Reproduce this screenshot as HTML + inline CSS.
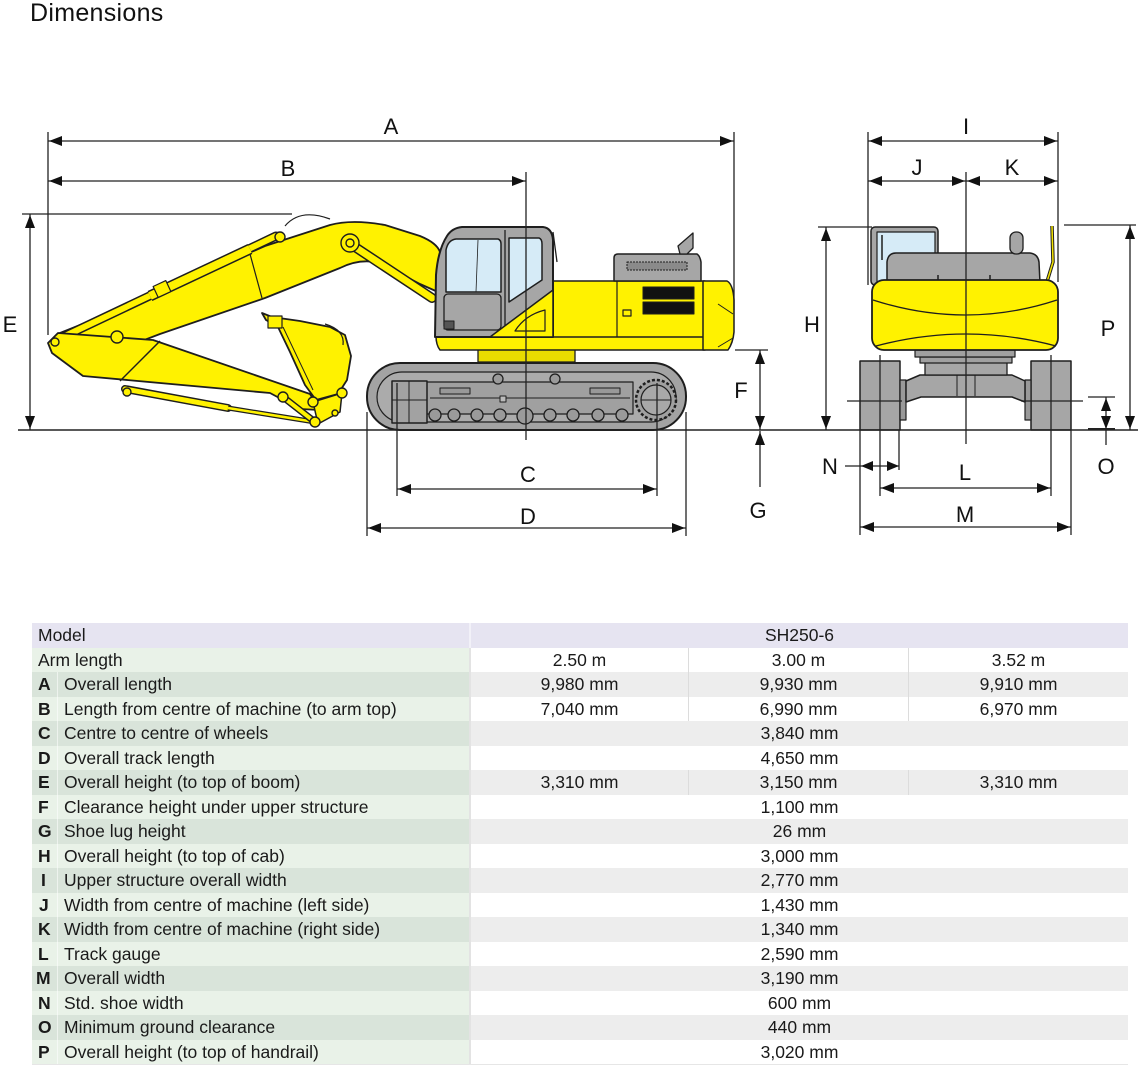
<!DOCTYPE html>
<html><head><meta charset="utf-8">
<style>
html,body{margin:0;padding:0;background:#fff;}
body{width:1140px;height:1067px;position:relative;overflow:hidden;font-family:"Liberation Sans",Arial,sans-serif;color:#1a1a1a;}
.r{position:absolute;left:32px;width:1096px;}
.l{position:absolute;left:0;top:0;bottom:0;width:437px;}
.rt{position:absolute;left:439px;top:0;bottom:0;width:657px;}
.dv{position:absolute;left:437px;top:0;bottom:0;width:2px;background:#e3e3e3;}
.t{position:absolute;top:0;bottom:0;display:flex;align-items:center;font-size:17.5px;white-space:nowrap;}
.k{left:6px;font-weight:bold;}
.d{left:32px;}
.c{justify-content:center;}
.c1{left:439px;width:217px;}
.c2{left:657px;width:219px;}
.c3{left:877px;width:219px;}
.cs{left:439px;width:657px;}
.vl{position:absolute;top:0;bottom:0;width:1px;background:#dcdcdc;}
.kl{position:absolute;left:25px;top:0;bottom:0;width:1px;background:rgba(255,255,255,0.55);}
.g1{background:#e9f2e8;}
.g2{background:#d9e4da;}
.w{background:#fff;}
.gr{background:#ededed;}
</style></head>
<body>
<svg width="1140" height="600" viewBox="0 0 1140 600" xmlns="http://www.w3.org/2000/svg" style="position:absolute;left:0;top:0">
<text x="30" y="21" font-family="Liberation Sans, Arial, sans-serif" font-size="25" fill="#111" letter-spacing="0.3">Dimensions</text>

<!-- ===== SIDE VIEW ===== -->
<g stroke="#1e1e1e" stroke-linejoin="round">
<!-- track -->
<rect x="367" y="363" width="319" height="67" rx="33" fill="#a3a3a3" stroke-width="2"/>
<rect x="377" y="372" width="299" height="50" rx="25" fill="#ababab" stroke-width="1.2"/>
<rect x="397" y="382" width="236" height="32" fill="#a0a0a0" stroke-width="1.2"/>
<line x1="430" y1="398" x2="630" y2="398" stroke-width="1"/>
<rect x="392" y="381" width="35" height="42" fill="#a2a2a2" stroke-width="1.5"/>
<line x1="392" y1="400" x2="427" y2="400" stroke-width="1"/>
<line x1="409" y1="381" x2="409" y2="423" stroke-width="1"/>
<rect x="440" y="388" width="30" height="6" fill="#999" stroke-width="1"/>
<rect x="590" y="388" width="30" height="6" fill="#999" stroke-width="1"/>
<rect x="500" y="396" width="6" height="6" fill="#bbb" stroke-width="1"/>
<g fill="#9a9a9a" stroke-width="1.3">
<circle cx="435" cy="415" r="6"/><circle cx="454" cy="415" r="6"/><circle cx="477" cy="415" r="6"/><circle cx="500" cy="415" r="6"/>
<circle cx="525" cy="416" r="8"/><circle cx="550" cy="415" r="6"/><circle cx="573" cy="415" r="6"/><circle cx="598" cy="415" r="6"/><circle cx="622" cy="415" r="6"/>
<circle cx="498" cy="379" r="5"/><circle cx="555" cy="379" r="5"/>
</g>
<circle cx="656" cy="400" r="20" fill="#a0a0a0" stroke-width="2.5" stroke-dasharray="3 2"/>
<circle cx="656" cy="400" r="15" fill="#a8a8a8" stroke-width="1.2"/>
<line x1="641" y1="400" x2="671" y2="400" stroke-width="1"/>
<!-- swing bearing -->
<rect x="478" y="349" width="97" height="13" fill="#e9dc00" stroke-width="1.3"/>
<!-- boom -->
<path d="M60,333 L140,301 L265,246 L330,225 Q352,219 385,225 L420,236 Q437,243 440,252 L438,292 L420,284 L380,263 Q360,258 340,268 L265,298 L160,334 L118,350 L80,350 Z" fill="#fff200" stroke-width="1.8"/>
<line x1="250" y1="254" x2="262" y2="298" stroke-width="1.2"/>
<!-- boom cylinder -->
<line x1="352" y1="245" x2="432" y2="298" stroke-width="10" stroke-linecap="round"/>
<line x1="352" y1="245" x2="432" y2="298" stroke="#fff200" stroke-width="7" stroke-linecap="round"/>
<!-- arm cylinder -->
<line x1="65" y1="336" x2="276" y2="236" stroke-width="9" stroke-linecap="round"/>
<line x1="65" y1="336" x2="276" y2="236" stroke="#fff200" stroke-width="6" stroke-linecap="round"/>
<line x1="150" y1="296" x2="250" y2="249" stroke-width="11"/>
<line x1="150" y1="296" x2="250" y2="249" stroke="#fff200" stroke-width="8"/>
<rect x="155" y="283" width="14" height="12" fill="#fff200" stroke-width="1.2" transform="rotate(-25 162 289)"/>
<!-- arm -->
<path d="M48,343 L58,333 L153,340 L310,394 L320,410 L300,409 L270,393 L83,376 L52,353 Z" fill="#fff200" stroke-width="1.8"/>
<line x1="160" y1="341" x2="120" y2="381" stroke-width="1.5"/>
<!-- bucket cylinder -->
<line x1="125" y1="389" x2="228" y2="408" stroke-width="8" stroke-linecap="round"/>
<line x1="125" y1="389" x2="228" y2="408" stroke="#fff200" stroke-width="5" stroke-linecap="round"/>
<line x1="228" y1="408" x2="315" y2="422" stroke-width="5"/>
<line x1="228" y1="408" x2="315" y2="422" stroke="#fff200" stroke-width="2.5"/>
<!-- bucket -->
<path d="M262,313 L272,317 L300,321 L330,327 L345,335 L351,356 L347,380 L338,394 L316,400 L305,385 L290,352 L278,327 L266,320 Z" fill="#fff200" stroke-width="1.8"/>
<path d="M325,324 Q345,330 343,345" fill="none" stroke-width="1.2"/>
<line x1="283" y1="327" x2="313" y2="390" stroke-width="1"/>
<rect x="268" y="316" width="14" height="12" fill="#fff200" stroke-width="1.2"/>
<!-- links -->
<line x1="283" y1="397" x2="315" y2="422" stroke-width="7" stroke-linecap="round"/>
<line x1="283" y1="397" x2="315" y2="422" stroke="#fff200" stroke-width="4" stroke-linecap="round"/>
<path d="M313,402 L342,393 L340,412 L318,424 Z" fill="#fff200" stroke-width="1.5"/>
<g fill="#fff200" stroke-width="1.4">
<circle cx="55" cy="342" r="4"/><circle cx="117" cy="337" r="6"/><circle cx="350" cy="243" r="9"/><circle cx="350" cy="243" r="4"/>
<circle cx="280" cy="237" r="5"/><circle cx="127" cy="392" r="4"/><circle cx="283" cy="397" r="5"/><circle cx="313" cy="402" r="5"/>
<circle cx="342" cy="393" r="5"/><circle cx="315" cy="422" r="5"/><circle cx="335" cy="413" r="3"/>
</g>
<path d="M285,226 Q300,208 330,219" fill="none" stroke-width="1.2"/>
<!-- upper body -->
<path d="M436,336 L705,336 L705,350 L440,350 Q436,345 436,336 Z" fill="#fff200" stroke-width="1.5"/>
<rect x="553" y="281" width="152" height="56" fill="#fff200" stroke-width="1.5"/>
<line x1="617" y1="281" x2="617" y2="337" stroke-width="1.2"/>
<path d="M703,281 L727,281 Q733,284 734,300 L734,332 Q733,343 728,350 L703,350 Z" fill="#fff200" stroke-width="1.5"/>
<line x1="718" y1="304" x2="733" y2="314" stroke-width="1"/>
<line x1="718" y1="347" x2="733" y2="338" stroke-width="1"/>
<path d="M614,281 L614,258 Q614,254 618,254 L697,254 Q700,256 701,262 L701,281 Z" fill="#a6a6a6" stroke-width="1.5"/>
<rect x="627" y="262" width="60" height="8" fill="#8a8a8a" stroke-width="1" stroke-dasharray="2 1"/>
<path d="M678,246 L693,233 L693,248 L687,254 L680,254 Z" fill="#a6a6a6" stroke-width="1.3"/>
<rect x="643" y="287" width="51" height="12" fill="#111"/>
<rect x="643" y="302" width="51" height="12" fill="#111"/>
<rect x="623" y="310" width="8" height="6" fill="none" stroke-width="1.2"/>
<!-- cab -->
<path d="M435,337 L436,275 Q438,250 447,236 Q452,228 462,227 L543,227 Q552,228 553,240 L553,337 Z" fill="#a6a6a6" stroke-width="2"/>
<path d="M446,292 L446,250 Q448,240 456,239 L498,239 Q501,240 501,244 L501,292 Z" fill="#d6ebf7" stroke-width="1.5"/>
<path d="M509,238 L539,238 Q542,239 542,244 L542,280 L509,302 Z" fill="#d6ebf7" stroke-width="1.5"/>
<line x1="478" y1="240" x2="476" y2="292" stroke-width="0.8"/>
<rect x="444" y="294" width="57" height="36" rx="4" fill="#a6a6a6" stroke-width="1.3"/>
<rect x="444" y="321" width="10" height="8" fill="#555" stroke-width="1"/>
<line x1="505" y1="230" x2="505" y2="337" stroke-width="1.3"/>
<path d="M490,337 L553,290 L553,337 Z" fill="#fff200" stroke-width="1.5"/>
<path d="M515,331 Q525,315 545,310 L545,331 Z" fill="none" stroke-width="1.2"/>
<line x1="553" y1="232" x2="557" y2="262" stroke-width="1.3"/>
</g>

<!-- ===== FRONT VIEW ===== -->
<g stroke="#1e1e1e" stroke-linejoin="round">
<rect x="860" y="361" width="40" height="69" fill="#a6a6a6" stroke-width="1.5"/>
<rect x="1031" y="361" width="40" height="69" fill="#a6a6a6" stroke-width="1.5"/>
<rect x="900" y="380" width="6" height="40" fill="#999" stroke-width="1.2"/>
<rect x="1025" y="380" width="6" height="40" fill="#999" stroke-width="1.2"/>
<path d="M906,381 L920,375 L1012,375 L1025,381 L1025,402 L1012,397 L921,397 L906,402 Z" fill="#a6a6a6" stroke-width="1.5"/>
<line x1="957" y1="375" x2="957" y2="396" stroke-width="1"/>
<line x1="975" y1="375" x2="975" y2="396" stroke-width="1"/>
<rect x="925" y="362" width="82" height="13" fill="#a6a6a6" stroke-width="1.3"/>
<rect x="920" y="357" width="92" height="6" fill="#a0a0a0" stroke-width="1.2"/>
<rect x="915" y="350" width="100" height="7" fill="#a0a0a0" stroke-width="1.2"/>
<rect x="871" y="227" width="67" height="58" rx="4" fill="#a6a6a6" stroke-width="1.5"/>
<rect x="877" y="232" width="58" height="50" fill="#d6ebf7" stroke-width="1.2"/>
<line x1="882" y1="235" x2="882" y2="260" stroke-width="1.5"/>
<path d="M887,283 L887,262 Q888,253 896,253 L1030,253 Q1038,254 1039,262 L1040,283 Z" fill="#a6a6a6" stroke-width="1.5"/>
<rect x="1010" y="232" width="13" height="22" rx="6" fill="#a6a6a6" stroke-width="1.3"/>
<path d="M1052,226 L1053,262 L1046,285" fill="none" stroke-width="3.5"/>
<path d="M1052,226 L1053,262 L1046,285" fill="none" stroke="#f2e200" stroke-width="1.5"/>
<rect x="872" y="280" width="186" height="70" rx="12" fill="#fff200" stroke-width="1.8"/>
<path d="M873,300 Q966,330 1057,300" fill="none" stroke-width="1.3"/>
<path d="M876,346 Q966,322 1056,346" fill="none" stroke-width="1.3"/>
<line x1="938" y1="275" x2="938" y2="280" stroke-width="1.5"/>
<line x1="990" y1="275" x2="990" y2="280" stroke-width="1.5"/>
</g>

<!-- ===== DIMENSION LINES ===== -->
<g stroke="#222" stroke-width="1.3" fill="none">
<line x1="18" y1="430" x2="1138" y2="430" stroke-width="1.6"/>
<line x1="48" y1="141" x2="734" y2="141"/>
<line x1="48" y1="132" x2="48" y2="335"/>
<line x1="734" y1="132" x2="734" y2="310"/>
<line x1="48" y1="181" x2="526" y2="181"/>
<line x1="526" y1="172" x2="526" y2="440"/>
<line x1="30" y1="214" x2="30" y2="430"/>
<line x1="22" y1="214" x2="292" y2="214"/>
<line x1="760" y1="350" x2="760" y2="430"/>
<line x1="735" y1="350" x2="768" y2="350"/>
<line x1="760" y1="431" x2="760" y2="487"/>
<line x1="397" y1="383" x2="397" y2="496"/>
<line x1="657" y1="383" x2="657" y2="496"/>
<line x1="397" y1="489" x2="657" y2="489"/>
<line x1="367" y1="412" x2="367" y2="536"/>
<line x1="686" y1="412" x2="686" y2="536"/>
<line x1="367" y1="528" x2="686" y2="528"/>
<!-- front -->
<line x1="868" y1="141" x2="1058" y2="141"/>
<line x1="868" y1="132" x2="868" y2="285"/>
<line x1="1058" y1="132" x2="1058" y2="282"/>
<line x1="868" y1="181" x2="1058" y2="181"/>
<line x1="966" y1="172" x2="966" y2="444"/>
<line x1="826" y1="227" x2="826" y2="430"/>
<line x1="818" y1="227" x2="872" y2="227"/>
<line x1="1130" y1="225" x2="1130" y2="430"/>
<line x1="1064" y1="225" x2="1136" y2="225"/>
<line x1="1106" y1="397" x2="1106" y2="445"/>
<line x1="847" y1="401" x2="902" y2="401"/>
<line x1="1021" y1="401" x2="1083" y2="401"/>
<line x1="1088" y1="397" x2="1115" y2="397"/>
<line x1="1088" y1="429" x2="1115" y2="429" stroke-width="2"/>
<line x1="845" y1="466" x2="899" y2="466"/>
<line x1="860" y1="430" x2="860" y2="535"/>
<line x1="880" y1="355" x2="880" y2="496"/>
<line x1="899" y1="430" x2="899" y2="470"/>
<line x1="1051" y1="355" x2="1051" y2="496"/>
<line x1="1071" y1="430" x2="1071" y2="535"/>
<line x1="880" y1="488" x2="1051" y2="488"/>
<line x1="860" y1="527" x2="1071" y2="527"/>
</g>
<!-- arrowheads -->
<g fill="#111">
<polygon points="49,141 62,136 62,146"/><polygon points="733,141 720,136 720,146"/>
<polygon points="49,181 62,176 62,186"/><polygon points="525,181 512,176 512,186"/>
<polygon points="30,215 25,228 35,228"/><polygon points="30,429 25,416 35,416"/>
<polygon points="760,351 755,364 765,364"/><polygon points="760,429 755,416 765,416"/>
<polygon points="760,432 755,445 765,445"/>
<polygon points="398,489 411,484 411,494"/><polygon points="656,489 643,484 643,494"/>
<polygon points="368,528 381,523 381,533"/><polygon points="685,528 672,523 672,533"/>
<polygon points="869,141 882,136 882,146"/><polygon points="1057,141 1044,136 1044,146"/>
<polygon points="869,181 882,176 882,186"/><polygon points="965,181 952,176 952,186"/>
<polygon points="967,181 980,176 980,186"/><polygon points="1057,181 1044,176 1044,186"/>
<polygon points="826,228 821,241 831,241"/><polygon points="826,429 821,416 831,416"/>
<polygon points="1130,226 1125,239 1135,239"/><polygon points="1130,429 1125,416 1135,416"/>
<polygon points="1106,398 1101,411 1111,411"/><polygon points="1106,429 1101,416 1111,416"/>
<polygon points="861,466 873,461 873,471"/><polygon points="899,466 887,461 887,471"/>
<polygon points="881,488 894,483 894,493"/><polygon points="1050,488 1037,483 1037,493"/>
<polygon points="861,527 874,522 874,532"/><polygon points="1070,527 1057,522 1057,532"/>
</g>
<!-- labels -->
<g font-family="Liberation Sans, Arial, sans-serif" font-size="22" fill="#111" text-anchor="middle">
<text x="391" y="134">A</text>
<text x="288" y="176">B</text>
<text x="10" y="332">E</text>
<text x="741" y="398">F</text>
<text x="758" y="518">G</text>
<text x="528" y="482">C</text>
<text x="528" y="524">D</text>
<text x="966" y="134">I</text>
<text x="917" y="175">J</text>
<text x="1012" y="175">K</text>
<text x="812" y="332">H</text>
<text x="1108" y="336">P</text>
<text x="830" y="474">N</text>
<text x="965" y="480">L</text>
<text x="1106" y="474">O</text>
<text x="965" y="522">M</text>
</g>
</svg>

<!-- ===== TABLE ===== -->
<div class="r" style="top:623px;height:25px;background:#e6e4f1;">
  <div class="dv" style="background:#f2f1f8"></div>
  <div class="t" style="left:6px">Model</div>
  <div class="t c cs">SH250-6</div>
</div>
<div class="r" style="top:648px;height:24px;">
  <div class="l g1"></div><div class="rt w"></div><div class="dv"></div>
  <div class="vl" style="left:656px"></div><div class="vl" style="left:876px"></div>
  <div class="t" style="left:6px">Arm length</div>
  <div class="t c c1">2.50 m</div><div class="t c c2">3.00 m</div><div class="t c c3">3.52 m</div>
</div>
<div class="r" style="top:672px;height:25px;">
  <div class="l g2"></div><div class="rt gr"></div><div class="dv"></div><div class="kl"></div>
  <div class="vl" style="left:656px"></div><div class="vl" style="left:876px"></div>
  <div class="t k">A</div><div class="t d">Overall length</div>
  <div class="t c c1">9,980 mm</div><div class="t c c2">9,930 mm</div><div class="t c c3">9,910 mm</div>
</div>
<div class="r" style="top:697px;height:24px;">
  <div class="l g1"></div><div class="rt w"></div><div class="dv"></div><div class="kl"></div>
  <div class="vl" style="left:656px"></div><div class="vl" style="left:876px"></div>
  <div class="t k">B</div><div class="t d">Length from centre of machine (to arm top)</div>
  <div class="t c c1">7,040 mm</div><div class="t c c2">6,990 mm</div><div class="t c c3">6,970 mm</div>
</div>
<div class="r" style="top:721px;height:25px;">
  <div class="l g2"></div><div class="rt gr"></div><div class="dv"></div><div class="kl"></div>
  <div class="t k">C</div><div class="t d">Centre to centre of wheels</div>
  <div class="t c cs">3,840 mm</div>
</div>
<div class="r" style="top:746px;height:24px;">
  <div class="l g1"></div><div class="rt w"></div><div class="dv"></div><div class="kl"></div>
  <div class="t k">D</div><div class="t d">Overall track length</div>
  <div class="t c cs">4,650 mm</div>
</div>
<div class="r" style="top:770px;height:25px;">
  <div class="l g2"></div><div class="rt gr"></div><div class="dv"></div><div class="kl"></div>
  <div class="vl" style="left:656px"></div><div class="vl" style="left:876px"></div>
  <div class="t k">E</div><div class="t d">Overall height (to top of boom)</div>
  <div class="t c c1">3,310 mm</div><div class="t c c2">3,150 mm</div><div class="t c c3">3,310 mm</div>
</div>
<div class="r" style="top:795px;height:24px;">
  <div class="l g1"></div><div class="rt w"></div><div class="dv"></div><div class="kl"></div>
  <div class="t k">F</div><div class="t d">Clearance height under upper structure</div>
  <div class="t c cs">1,100 mm</div>
</div>
<div class="r" style="top:819px;height:25px;">
  <div class="l g2"></div><div class="rt gr"></div><div class="dv"></div><div class="kl"></div>
  <div class="t k">G</div><div class="t d">Shoe lug height</div>
  <div class="t c cs">26 mm</div>
</div>
<div class="r" style="top:844px;height:24px;">
  <div class="l g1"></div><div class="rt w"></div><div class="dv"></div><div class="kl"></div>
  <div class="t k">H</div><div class="t d">Overall height (to top of cab)</div>
  <div class="t c cs">3,000 mm</div>
</div>
<div class="r" style="top:868px;height:25px;">
  <div class="l g2"></div><div class="rt gr"></div><div class="dv"></div><div class="kl"></div>
  <div class="t k" style="left:9px">I</div><div class="t d">Upper structure overall width</div>
  <div class="t c cs">2,770 mm</div>
</div>
<div class="r" style="top:893px;height:24px;">
  <div class="l g1"></div><div class="rt w"></div><div class="dv"></div><div class="kl"></div>
  <div class="t k" style="left:7px">J</div><div class="t d">Width from centre of machine (left side)</div>
  <div class="t c cs">1,430 mm</div>
</div>
<div class="r" style="top:917px;height:25px;">
  <div class="l g2"></div><div class="rt gr"></div><div class="dv"></div><div class="kl"></div>
  <div class="t k">K</div><div class="t d">Width from centre of machine (right side)</div>
  <div class="t c cs">1,340 mm</div>
</div>
<div class="r" style="top:942px;height:24px;">
  <div class="l g1"></div><div class="rt w"></div><div class="dv"></div><div class="kl"></div>
  <div class="t k">L</div><div class="t d">Track gauge</div>
  <div class="t c cs">2,590 mm</div>
</div>
<div class="r" style="top:966px;height:25px;">
  <div class="l g2"></div><div class="rt gr"></div><div class="dv"></div><div class="kl"></div>
  <div class="t k" style="left:4px">M</div><div class="t d">Overall width</div>
  <div class="t c cs">3,190 mm</div>
</div>
<div class="r" style="top:991px;height:24px;">
  <div class="l g1"></div><div class="rt w"></div><div class="dv"></div><div class="kl"></div>
  <div class="t k">N</div><div class="t d">Std. shoe width</div>
  <div class="t c cs">600 mm</div>
</div>
<div class="r" style="top:1015px;height:25px;">
  <div class="l g2"></div><div class="rt gr"></div><div class="dv"></div><div class="kl"></div>
  <div class="t k">O</div><div class="t d">Minimum ground clearance</div>
  <div class="t c cs">440 mm</div>
</div>
<div class="r" style="top:1040px;height:24px;">
  <div class="l g1"></div><div class="rt w"></div><div class="dv"></div><div class="kl"></div>
  <div class="t k">P</div><div class="t d">Overall height (to top of handrail)</div>
  <div class="t c cs">3,020 mm</div>
</div>
<div style="position:absolute;left:32px;top:1064px;width:1096px;height:1px;background:#e6e6e6"></div>
</body></html>
